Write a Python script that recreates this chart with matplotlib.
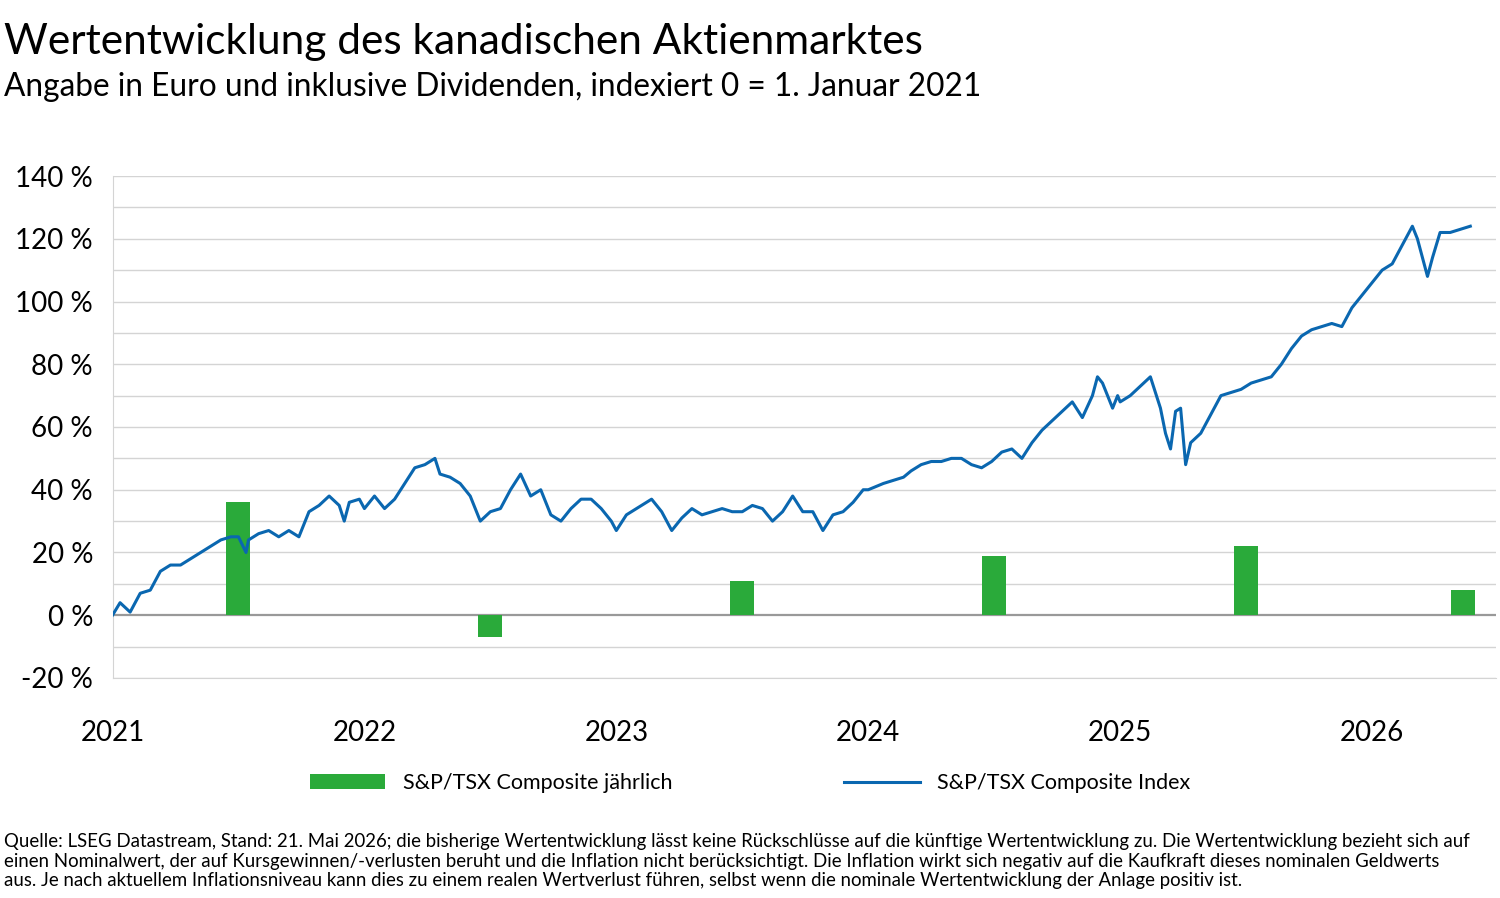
import matplotlib
matplotlib.use("Agg")
import matplotlib.pyplot as plt
import numpy as np

plt.rcParams['font.family'] = ['Lato', 'DejaVu Sans']

t = [2021.00,2021.03,2021.07,2021.11,2021.15,2021.19,2021.23,2021.27,2021.31,2021.35,2021.39,2021.43,2021.47,2021.50,2021.53,2021.54,2021.58,2021.62,2021.66,2021.70,2021.74,2021.78,2021.82,2021.86,2021.90,2021.92,2021.94,2021.98,
     2022.00,2022.04,2022.08,2022.12,2022.16,2022.20,2022.24,2022.28,2022.30,2022.34,2022.38,2022.42,2022.46,2022.50,2022.54,2022.58,2022.62,2022.66,2022.70,2022.74,2022.78,2022.82,2022.86,2022.90,2022.94,2022.98,
     2023.00,2023.04,2023.10,2023.14,2023.18,2023.22,2023.26,2023.30,2023.34,2023.38,2023.42,2023.46,2023.50,2023.54,2023.58,2023.62,2023.66,2023.70,2023.74,2023.78,2023.82,2023.86,2023.90,2023.94,2023.98,
     2024.00,2024.06,2024.10,2024.14,2024.17,2024.21,2024.25,2024.29,2024.33,2024.37,2024.41,2024.45,2024.49,2024.53,2024.57,2024.61,2024.65,2024.69,2024.73,2024.77,2024.81,2024.85,2024.89,2024.91,2024.93,2024.97,2024.99,
     2025.00,2025.04,2025.08,2025.12,2025.16,2025.18,2025.20,2025.22,2025.24,2025.26,2025.28,2025.32,2025.36,2025.40,2025.44,2025.48,2025.52,2025.56,2025.60,2025.64,2025.68,2025.72,2025.76,2025.80,2025.84,2025.88,2025.92,2025.96,2026.00,
     2026.04,2026.08,2026.12,2026.16,2026.18,2026.20,2026.22,2026.24,2026.27,2026.31,2026.35,2026.39]
index = [0,4,1,7,8,14,16,16,18,20,22,24,25,25,20,24,26,27,25,27,25,33,35,38,35,30,36,37,
         34,38,34,37,42,47,48,50,45,44,42,38,30,33,34,40,45,38,40,32,30,34,37,37,34,30,
         27,32,35,37,33,27,31,34,32,33,34,33,33,35,34,30,33,38,33,33,27,32,33,36,40,
         40,42,43,44,46,48,49,49,50,50,48,47,49,52,53,50,55,59,62,65,68,63,70,76,74,66,70,
         68,70,73,76,66,58,53,65,66,48,55,58,64,70,71,72,74,75,76,80,85,89,91,92,93,92,98,102,106,
         110,112,118,124,120,114,108,114,122,122,123,124]

bar_t = [2021.5, 2022.5, 2023.5, 2024.5, 2025.5, 2026.36]
bar_v = [36, -7, 11, 19, 22, 8]

years = [2021, 2022, 2023, 2024, 2025, 2026]
yticks = [-20, 0, 20, 40, 60, 80, 100, 120, 140]

fig = plt.figure(figsize=(15, 8.98), dpi=100)
ax = fig.add_axes([0.075, 0.245, 0.922, 0.559])
for y in range(-20, 141, 10):
    ax.axhline(y, color='#d4d4d4' if y != 0 else '#999999', lw=1 if y != 0 else 1.6, zorder=0)
b = ax.bar(bar_t, bar_v, width=0.095, color='#2aaa3a', zorder=2, label='S&P/TSX Composite jährlich')
l, = ax.plot(t, index, color='#0a67b0', lw=2.2, zorder=3, label='S&P/TSX Composite Index')
ax.set_xlim(2021, 2026.49)
ax.set_ylim(-20, 140)
ax.set_yticks(yticks)
ax.set_yticklabels([f"{v} %" for v in yticks], fontsize=20)
ax.set_xticks(years)
ax.set_xticklabels([str(y) for y in years], fontsize=20)
ax.tick_params(length=0)
ax.tick_params(axis='x', pad=30)
ax.tick_params(axis='y', pad=14)
for s in ax.spines.values():
    s.set_visible(False)
ax.spines['left'].set_visible(True)
ax.spines['left'].set_color('#d4d4d4')
ax.spines['bottom'].set_visible(True)
ax.spines['bottom'].set_color('#d4d4d4')

fig.text(0.003, 0.953, "Wertentwicklung des kanadischen Aktienmarktes", fontsize=30.5, va='center')
fig.text(0.003, 0.903, "Angabe in Euro und inklusive Dividenden, indexiert 0 = 1. Januar 2021", fontsize=22.8, va='center')
fig.legend(handles=[b, l], loc='center', bbox_to_anchor=(0.5, 0.128), ncol=2, frameon=False, fontsize=15.5,
           handlelength=3.5, columnspacing=8)
fig.text(0.003, 0.041, "Quelle: LSEG Datastream, Stand: 21. Mai 2026; die bisherige Wertentwicklung lässt keine Rückschlüsse auf die künftige Wertentwicklung zu. Die Wertentwicklung bezieht sich auf\n"
         "einen Nominalwert, der auf Kursgewinnen/-verlusten beruht und die Inflation nicht berücksichtigt. Die Inflation wirkt sich negativ auf die Kaufkraft dieses nominalen Geldwerts\n"
         "aus. Je nach aktuellem Inflationsniveau kann dies zu einem realen Wertverlust führen, selbst wenn die nominale Wertentwicklung der Anlage positiv ist.",
         fontsize=13.4, va='center', linespacing=1.2)
fig.savefig("out.png", dpi=100)
